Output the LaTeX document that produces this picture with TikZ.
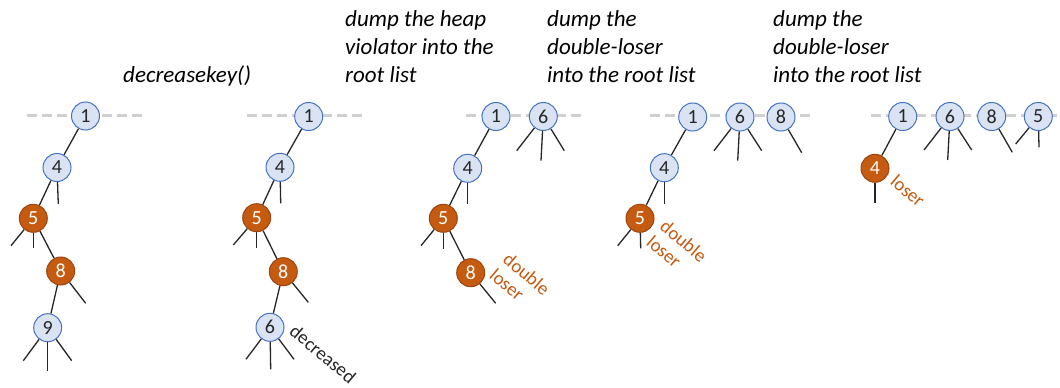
\documentclass[tikz,border=0pt]{standalone}
\usepackage{fontspec}
\setmainfont{Carlito}

\definecolor{keyblue}{HTML}{DAE3F3}
\definecolor{keyedge}{HTML}{4472C4}
\definecolor{loserfill}{HTML}{C55A11}
\definecolor{loseredge}{HTML}{9C4510}
\definecolor{rootgray}{HTML}{D0D0D0}
\definecolor{treeline}{HTML}{262626}

\begin{document}
\begin{tikzpicture}[x=1pt, y=-1pt,
    % Define the styles for the heap nodes
    keynode/.style={circle, draw=keyedge, fill=keyblue, line width=1pt,
        minimum size=28pt, inner sep=0pt, text=treeline,
        font=\fontsize{20}{20}\selectfont},
    losernode/.style={keynode, draw=loseredge, fill=loserfill, text=white},
    % Define the style for the lines
    rootlist/.style={draw=rootgray, line width=3.3pt, dash pattern=on 10pt off 5pt},
    tree/.style={draw=treeline, line width=1.3pt},
    % Define the style for the texts
    title/.style={anchor=base west, align=left, inner sep=0pt,
        font=\itshape\fontsize{23}{27.8}\selectfont},
    note/.style={rotate=-40, align=left, inner sep=0pt, text=loserfill,
        font=\fontsize{19}{21}\selectfont}
]
\useasboundingbox (0,0) rectangle (1060,388);

% Add the titles (base is the last line)
\node[title] (t1) at (123,82.3) {decreasekey()};
\node[title] (t2) at (345,82.3) {dump the heap\\violator into the\\root list};
\node[title] (t3) at (547,82.3) {dump the\\double-loser\\into the root list};
\node[title] (t4) at (773,82.3) {dump the\\double-loser\\into the root list};

% Define the ends of the root lists
\coordinate (ra1) at (27,115.5);
\coordinate (ra2) at (146,115.5);
\coordinate (rb1) at (246.7,115.5);
\coordinate (rb2) at (365,115.5);
\coordinate (rc1) at (465.7,115.5);
\coordinate (rc2) at (583,115.5);
\coordinate (rd1) at (650,115.5);
\coordinate (rd2) at (810,115.5);
\coordinate (re1) at (870.7,115.5);
\coordinate (re2) at (1057,115.5);

% Draw the root lists
\draw[rootlist] (ra1) -- (ra2);
\draw[rootlist] (rb1) -- (rb2);
\draw[rootlist] (rc1) -- (rc2);
\draw[rootlist] (rd1) -- (rd2);
\draw[rootlist] (re1) -- (re2);

% First heap
\node[keynode] (a1) at (85.5,116) {1};
\node[keynode] (a4) at (57,167.5) {4};
\node[losernode] (a5) at (33.3,218.3) {5};
\node[losernode] (a8) at (60.7,271) {8};
\node[keynode] (a9) at (47.7,327.7) {9};
\coordinate (a4s) at (58.3,204);
\coordinate (a5s1) at (11,245.7);
\coordinate (a5s2) at (33.3,248.3);
\coordinate (a8s) at (85.7,303.3);
\coordinate (a9s1) at (23.3,360.7);
\coordinate (a9s2) at (47.7,370.7);
\coordinate (a9s3) at (71.7,360.7);
\draw[tree] (a1) -- (a4);
\draw[tree] (a4) -- (a5);
\draw[tree] (a5) -- (a8);
\draw[tree] (a8) -- (a9);
\draw[tree] (a4) -- (a4s);
\draw[tree] (a5) -- (a5s1);
\draw[tree] (a5) -- (a5s2);
\draw[tree] (a8) -- (a8s);
\draw[tree] (a9) -- (a9s1);
\draw[tree] (a9) -- (a9s2);
\draw[tree] (a9) -- (a9s3);

% Second heap
\node[keynode] (b1) at (308.7,116.5) {1};
\node[keynode] (b4) at (280,167.3) {4};
\node[losernode] (b5) at (256.7,217.7) {5};
\node[losernode] (b8) at (283.3,271.7) {8};
\node[keynode] (b6) at (270,327.3) {6};
\coordinate (b4s) at (280.7,203.3);
\coordinate (b5s1) at (233.3,245);
\coordinate (b5s2) at (256.7,247.7);
\coordinate (b8s) at (308.3,302.3);
\coordinate (b6s1) at (246,359.3);
\coordinate (b6s2) at (270.7,369.3);
\coordinate (b6s3) at (294,359.3);
\draw[tree] (b1) -- (b4);
\draw[tree] (b4) -- (b5);
\draw[tree] (b5) -- (b8);
\draw[tree] (b8) -- (b6);
\draw[tree] (b4) -- (b4s);
\draw[tree] (b5) -- (b5s1);
\draw[tree] (b5) -- (b5s2);
\draw[tree] (b8) -- (b8s);
\draw[tree] (b6) -- (b6s1);
\draw[tree] (b6) -- (b6s2);
\draw[tree] (b6) -- (b6s3);
\node[note, text=treeline] (bn) at (323,354) {decreased};

% Third heap
\node[keynode] (c1) at (496,116.5) {1};
\node[keynode] (c6) at (543.3,116.5) {6};
\node[keynode] (c4) at (467.7,168.3) {4};
\node[losernode] (c5) at (443.3,218.3) {5};
\node[losernode] (c8) at (470.7,272.7) {8};
\coordinate (c6s1) at (516.7,150.7);
\coordinate (c6s2) at (541,160.7);
\coordinate (c6s3) at (564.3,150.7);
\coordinate (c4s) at (467.7,204.3);
\coordinate (c5s1) at (421,245.7);
\coordinate (c5s2) at (443.3,249);
\coordinate (c8s) at (495.7,303.3);
\draw[tree] (c1) -- (c4);
\draw[tree] (c4) -- (c5);
\draw[tree] (c5) -- (c8);
\draw[tree] (c6) -- (c6s1);
\draw[tree] (c6) -- (c6s2);
\draw[tree] (c6) -- (c6s3);
\draw[tree] (c4) -- (c4s);
\draw[tree] (c5) -- (c5s1);
\draw[tree] (c5) -- (c5s2);
\draw[tree] (c8) -- (c8s);
\node[note] (cn) at (520,282) {double\\loser};

% Fourth heap
\node[keynode] (d1) at (692.7,117) {1};
\node[keynode] (d6) at (740,117) {6};
\node[keynode] (d8) at (781,117) {8};
\node[keynode] (d4) at (664.3,167.7) {4};
\node[losernode] (d5) at (640,218.3) {5};
\coordinate (d6s1) at (714,150.7);
\coordinate (d6s2) at (737.7,160.7);
\coordinate (d6s3) at (761.7,150.7);
\coordinate (d8s) at (801.7,152.7);
\coordinate (d4s) at (664.3,204.3);
\coordinate (d5s1) at (617.7,245.7);
\coordinate (d5s2) at (640.7,248.3);
\draw[tree] (d1) -- (d4);
\draw[tree] (d4) -- (d5);
\draw[tree] (d6) -- (d6s1);
\draw[tree] (d6) -- (d6s2);
\draw[tree] (d6) -- (d6s3);
\draw[tree] (d8) -- (d8s);
\draw[tree] (d4) -- (d4s);
\draw[tree] (d5) -- (d5s1);
\draw[tree] (d5) -- (d5s2);
\node[note] (dn) at (677,249) {double\\loser};

% Fifth heap
\node[keynode] (e1) at (902.7,116.5) {1};
\node[keynode] (e6) at (950,116.5) {6};
\node[keynode] (e8) at (991.7,116.5) {8};
\node[keynode] (e5) at (1038.3,116.5) {5};
\node[losernode] (e4) at (875,168.3) {4};
\coordinate (e6s1) at (924,150);
\coordinate (e6s2) at (947.7,160);
\coordinate (e6s3) at (971.7,150);
\coordinate (e8s) at (1012.3,152.3);
\coordinate (e5s1) at (1015.7,144);
\coordinate (e5s2) at (1039,147.3);
\coordinate (e4s) at (875,203.3);
\draw[tree] (e1) -- (e4);
\draw[tree] (e6) -- (e6s1);
\draw[tree] (e6) -- (e6s2);
\draw[tree] (e6) -- (e6s3);
\draw[tree] (e8) -- (e8s);
\draw[tree] (e5) -- (e5s1);
\draw[tree] (e5) -- (e5s2);
\draw[tree] (e4) -- (e4s);
\node[note] (en) at (908,191) {loser};

\end{tikzpicture}
\end{document}
